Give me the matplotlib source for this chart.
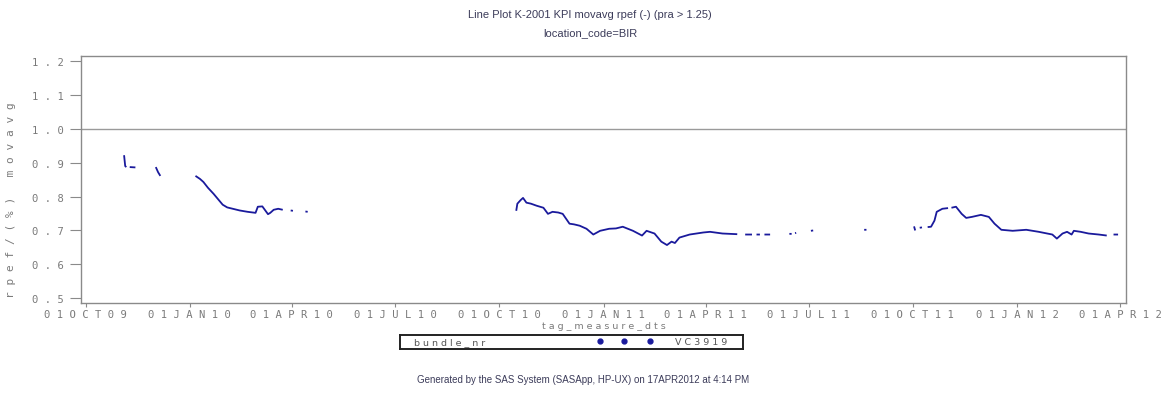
import numpy as np
import pandas as pd
import matplotlib
matplotlib.use('Agg')
import matplotlib.pyplot as plt

# moving average per day, NaN marks a break in the series
dates = [
    '2009-11-04', '2009-11-05', '2009-11-06', '2009-11-07',
    '2009-11-09', '2009-11-14', '2009-11-20',
    '2009-12-02', '2009-12-04', '2009-12-06', '2009-12-20',
    '2010-01-06', '2010-01-10', '2010-01-13', '2010-01-17', '2010-01-22',
    '2010-01-26', '2010-01-30', '2010-02-03', '2010-02-08', '2010-02-14',
    '2010-02-21', '2010-02-28', '2010-03-02', '2010-03-06', '2010-03-08',
    '2010-03-11', '2010-03-13', '2010-03-16', '2010-03-20', '2010-03-24',
    '2010-03-27', '2010-03-31', '2010-04-02', '2010-04-05',
    '2010-04-13', '2010-04-15', '2010-04-20',
    '2010-10-16', '2010-10-17', '2010-10-20', '2010-10-22', '2010-10-25',
    '2010-10-29', '2010-11-03', '2010-11-09', '2010-11-13', '2010-11-17',
    '2010-11-22', '2010-11-26', '2010-12-02', '2010-12-06', '2010-12-11',
    '2010-12-17', '2010-12-23', '2010-12-29', '2011-01-06', '2011-01-12',
    '2011-01-18', '2011-01-27', '2011-02-04', '2011-02-08', '2011-02-15',
    '2011-02-21', '2011-02-26', '2011-03-02', '2011-03-05', '2011-03-09',
    '2011-03-18', '2011-03-30', '2011-04-05', '2011-04-16', '2011-04-29',
    '2011-05-03', '2011-05-06', '2011-05-12', '2011-05-14',
    '2011-05-16', '2011-05-19', '2011-05-21', '2011-05-23', '2011-05-28', '2011-06-01',
    '2011-06-14', '2011-06-16', '2011-06-17', '2011-06-19', '2011-06-20', '2011-06-22',
    '2011-07-03', '2011-07-05', '2011-07-10',
    '2011-08-19', '2011-08-21', '2011-08-25',
    '2011-10-02', '2011-10-03', '2011-10-05',
    '2011-10-07', '2011-10-09', '2011-10-12',
    '2011-10-14', '2011-10-17', '2011-10-20', '2011-10-22', '2011-10-27',
    '2011-11-01', '2011-11-02',
    '2011-11-04', '2011-11-08', '2011-11-13', '2011-11-17', '2011-11-22',
    '2011-11-30', '2011-12-07', '2011-12-12', '2011-12-18', '2011-12-28',
    '2012-01-09', '2012-01-20', '2012-02-01', '2012-02-05', '2012-02-10',
    '2012-02-14', '2012-02-18', '2012-02-20', '2012-02-26', '2012-03-04',
    '2012-03-13', '2012-03-20', '2012-03-23',
    '2012-03-26', '2012-03-30',
]
values = [
    0.922, 0.890, 0.887, np.nan,
    0.887, 0.886, np.nan,
    0.887, 0.872, 0.861, np.nan,
    0.861, 0.852, 0.843, 0.826, 0.808,
    0.792, 0.776, 0.768, 0.764, 0.759,
    0.755, 0.752, 0.770, 0.771, 0.762,
    0.748, 0.752, 0.761, 0.764, 0.761,
    np.nan, 0.759, 0.758, np.nan,
    0.756, 0.755, np.nan,
    0.758, 0.779, 0.790, 0.796, 0.782,
    0.779, 0.773, 0.767, 0.749, 0.755,
    0.753, 0.749, 0.720, 0.718, 0.714,
    0.705, 0.688, 0.699, 0.705, 0.706,
    0.711, 0.699, 0.685, 0.699, 0.691,
    0.667, 0.657, 0.667, 0.663, 0.679,
    0.688, 0.694, 0.696, 0.691, 0.689,
    np.nan, 0.688, 0.688, np.nan,
    0.688, 0.688, np.nan, 0.688, 0.688, np.nan,
    0.690, 0.690, np.nan, 0.692, 0.693, np.nan,
    0.699, 0.700, np.nan,
    0.702, 0.702, np.nan,
    0.712, 0.700, np.nan,
    0.708, 0.709, np.nan,
    0.710, 0.711, 0.729, 0.755, 0.764,
    0.766, np.nan,
    0.767, 0.770, 0.749, 0.737, 0.740,
    0.746, 0.740, 0.720, 0.702, 0.699,
    0.702, 0.696, 0.688, 0.676, 0.691,
    0.696, 0.688, 0.699, 0.696, 0.691,
    0.688, 0.685, np.nan,
    0.688, 0.688,
]

tick_dates = ['2009-10-01', '2010-01-01', '2010-04-01', '2010-07-01',
              '2010-10-01', '2011-01-01', '2011-04-01', '2011-07-01',
              '2011-10-01', '2012-01-01', '2012-04-01']
y_ticks = [0.5, 0.6, 0.7, 0.8, 0.9, 1.0, 1.1, 1.2]
ref_level = 1.0
bundle = 'VC3919'

title = 'Line Plot K-2001 KPI movavg rpef (-) (pra > 1.25)'
subtitle = 'location_code=BIR'
footnote = 'Generated by the SAS System (SASApp, HP-UX) on 17APR2012 at 4:14 PM'

mono = 'DejaVu Sans Mono'
grey = '#7a7a7a'
blue = '#1a1a9c'


def spaced(s):
    # SAS device font draws glyphs with wide tracking
    return ' '.join(s)


fig = plt.figure(figsize=(11.69, 4.10), dpi=100)
ax = fig.add_axes([81 / 1169, 1 - 304 / 410, 1045 / 1169, 247 / 410])

x = pd.to_datetime(dates)
ax.plot(x, values, color=blue, lw=1.3, solid_capstyle='butt')
ax.axhline(ref_level, color='#9a9a9a', lw=1)

ticks = pd.to_datetime(tick_dates)
ax.set_xticks(ticks)
ax.set_xticklabels([spaced(t.strftime('%d%b%y').upper()) for t in ticks],
                   family=mono, fontsize=7.6, color=grey)
ax.set_xlim(pd.Timestamp('2009-09-27'), pd.Timestamp('2012-04-06'))

ax.set_yticks(y_ticks)
ax.set_yticklabels([spaced('%.1f' % v) for v in y_ticks],
                   family=mono, fontsize=7.6, color=grey)
ax.set_ylim(0.486, 1.2147)

ax.tick_params(axis='x', direction='out', length=3, width=0.8,
               color='#8a8a8a', pad=1)
ax.tick_params(axis='y', direction='out', length=8, width=0.8,
               color='#8a8a8a', pad=4)
for s in ax.spines.values():
    s.set_color('#8a8a8a')
    s.set_linewidth(1)

ax.set_xlabel(spaced('tag_measure_dts'), family='DejaVu Sans', fontsize=6.8,
              color=grey, labelpad=2)
ax.set_ylabel(spaced('rpef/(%) movavg'), family=mono, fontsize=8,
              color=grey)
ax.yaxis.set_label_coords(-0.062, 0.42)

fig.text(0.505, 1 - 15 / 410, title, ha='center', va='center',
         family='Liberation Sans', fontsize=8, color='#3c3c5a')
fig.text(0.505, 1 - 33 / 410, subtitle, ha='center', va='center',
         family='Liberation Sans', fontsize=8, color='#3c3c5a')

# legend box under the axis
lg = fig.add_axes([400 / 1169, 1 - 350 / 410, 343 / 1169, 14 / 410])
lg.set_xlim(0, 343)
lg.set_ylim(0, 1)
lg.set_xticks([])
lg.set_yticks([])
for s in lg.spines.values():
    s.set_color('#222222')
    s.set_linewidth(1.4)
lg.text(14, 0.5, spaced('bundle_nr'), family='DejaVu Sans', fontsize=6.8,
        color='#555555', va='center')
lg.plot([200, 224, 250], [0.55] * 3, 'o', color=blue, ms=3.5)
lg.text(275, 0.5, spaced(bundle), family='DejaVu Sans', fontsize=6.8,
        color='#555555', va='center')

fig.text(0.499, 1 - 380 / 410, footnote, ha='center', va='center',
         family='Liberation Sans', fontsize=7, color='#3c3c5a')

fig.savefig('out.png', dpi=100)
